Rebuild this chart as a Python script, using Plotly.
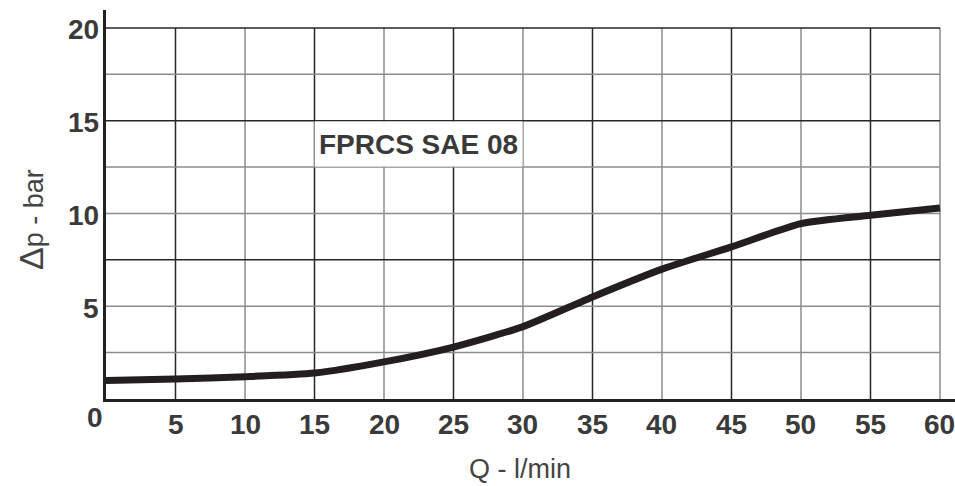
import plotly.graph_objects as go

# Data
flow_lpm = [0, 5, 10, 15, 20, 25, 30, 35, 40, 45, 50, 55, 60]
dp_bar = [1.0, 1.08, 1.2, 1.4, 2.0, 2.8, 3.9, 5.5, 7.0, 8.2, 9.45, 9.9, 10.3]

x_ticks = [5, 10, 15, 20, 25, 30, 35, 40, 45, 50, 55, 60]
y_ticks = [5, 10, 15, 20]
x_grid = [5, 10, 15, 20, 25, 30, 35, 40, 45, 50, 55, 60]
y_grid = [2.5, 5, 7.5, 10, 12.5, 15, 17.5, 20]
y_grid_dark = [7.5, 15, 20]

DARK = "#262626"
GRAY = "#8c8c8c"
TXT = "#3a3a3a"
FONT = "Liberation Sans, Arial, sans-serif"

L, R, T, B = 106, 0, 10, 87
W, H = 955, 486
PW, PH = W - L - R, H - T - B


def px_x(x):
    return (x - L) / PW


def px_y(y):
    return (H - B - y) / PH


fig = go.Figure()
fig.add_trace(go.Scatter(
    x=flow_lpm, y=dp_bar, mode="lines",
    line=dict(color="#231f20", width=7, shape="spline", smoothing=0.6),
    hoverinfo="skip", showlegend=False,
))

shapes = []
for xv in x_grid:
    col = DARK if (xv // 5) % 2 == 1 else GRAY
    shapes.append(dict(type="line", xref="x", yref="y", x0=xv, x1=xv, y0=0, y1=20,
                       line=dict(color=col, width=1.5), layer="below"))
for yv in y_grid:
    col = DARK if yv in y_grid_dark else GRAY
    shapes.append(dict(type="line", xref="x", yref="y", x0=0, x1=60, y0=yv, y1=yv,
                       line=dict(color=col, width=1.5), layer="below"))

bold = dict(family=FONT, size=28, color=TXT, weight="bold")

annotations = []
for xv in x_ticks:
    annotations.append(dict(text=str(xv), x=xv, y=px_y(424), xref="x", yref="paper",
                            xanchor="center", yanchor="middle", showarrow=False, font=bold))
for yv in y_ticks:
    annotations.append(dict(text=str(yv), x=px_x(101), y=yv, xref="paper", yref="y",
                            xanchor="right", yanchor="middle", yshift=-2,
                            showarrow=False, font=bold))
annotations += [
    dict(text="0", x=px_x(95), y=px_y(417), xref="paper", yref="paper",
         xanchor="center", yanchor="middle", showarrow=False, font=bold),
    dict(text="FPRCS SAE 08", x=22.5, y=13.75, xref="x", yref="y", showarrow=False,
         xanchor="center", yanchor="middle", width=205, height=42, bgcolor="white",
         font=dict(family=FONT, size=28, color=TXT, weight="bold")),
    dict(text="Q - l/min", x=px_x(520), y=px_y(469), xref="paper", yref="paper",
         xanchor="center", yanchor="middle", showarrow=False,
         font=dict(family=FONT, size=27, color="#444444")),
    dict(text="<span style='font-size:34px'>Δ</span>p - bar", x=px_x(31), y=px_y(220),
         xref="paper", yref="paper",
         xanchor="center", yanchor="middle", textangle=-90, showarrow=False,
         font=dict(family=FONT, size=27, color="#444444")),
]

fig.update_layout(
    width=W, height=H,
    margin=dict(l=L, r=R, t=T, b=B),
    paper_bgcolor="white", plot_bgcolor="white",
    shapes=shapes,
    annotations=annotations,
    xaxis=dict(range=[0, 61.08], showticklabels=False, showgrid=False, zeroline=False,
               showline=True, linecolor="#222222", linewidth=2.5, ticks=""),
    yaxis=dict(range=[0, 20.97], showticklabels=False, showgrid=False, zeroline=False,
               showline=True, linecolor="#222222", linewidth=2.5, ticks=""),
)

fig.write_html("out.html")
